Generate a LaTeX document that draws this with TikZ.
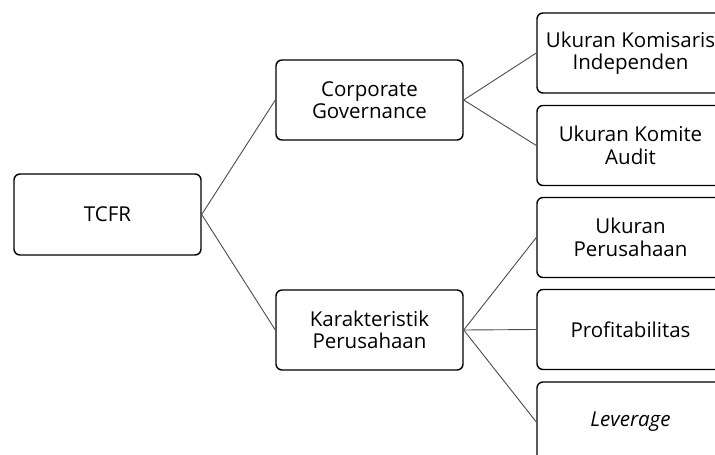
\documentclass[tikz,border=0pt]{standalone}
\usepackage{fontspec}
\setmainfont{Open Sans}
\begin{document}
\begin{tikzpicture}[x=1pt,y=-1pt,
  box/.style={draw=black, line width=1.4pt, rounded corners=6pt, minimum width=187pt, minimum height=80pt, align=center, font=\fontsize{20.5}{22.5}\selectfont, inner sep=0pt},
  conn/.style={draw=black!70, line width=0.9pt}]
\useasboundingbox (0,0) rectangle (715,455);
\clip (0,0) rectangle (715,455);
\node[box, minimum height=81pt] (tcfr) at (107.5,214.5) {TCFR};
\node[box] (cg) at (369.5,100) {Corporate\\Governance};
\node[box] (kp) at (369.5,330) {Karakteristik\\Perusahaan};
\node[box] (uki) at (630.5,53) {Ukuran Komisaris\\Independen};
\node[box] (ukm) at (630.5,145.5) {Ukuran Komite\\Audit};
\node[box] (ukp) at (630.5,237.5) {Ukuran\\Perusahaan};
\node[box] (prof) at (630.5,329.5) {Profitabilitas};
\node[box] (lev) at (630.5,422) {\itshape Leverage};
\draw[conn] (tcfr.east) -- (cg.west);
\draw[conn] (tcfr.east) -- (kp.west);
\draw[conn] (cg.east) -- (uki.west);
\draw[conn] (cg.east) -- (ukm.west);
\draw[conn] (kp.east) -- (ukp.west);
\draw[conn] (kp.east) -- (prof.west);
\draw[conn] (kp.east) -- (lev.west);
\end{tikzpicture}
\end{document}
